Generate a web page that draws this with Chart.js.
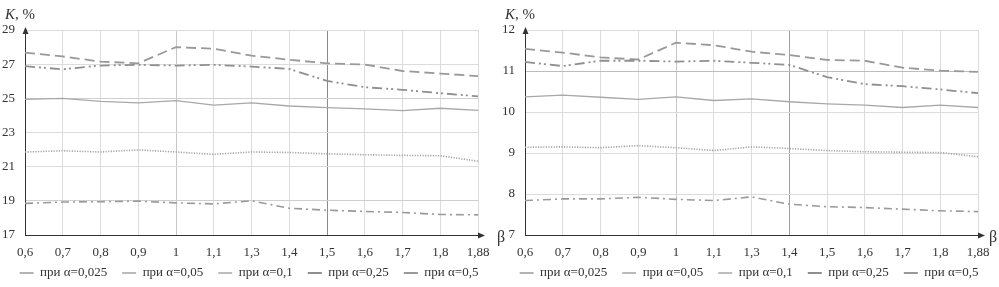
<!DOCTYPE html>
<html>
<head>
<meta charset="utf-8">
<script src="https://cdn.jsdelivr.net/npm/chart.js@4"></script>
<style>
  html, body { margin: 0; padding: 0; background: #fff; width: 999px; height: 287px; overflow: hidden; }
  #w1 { position: absolute; left: 0; top: 0; width: 510px; height: 287px; }
  #w2 { position: absolute; left: 500px; top: 0; width: 499px; height: 287px; z-index: 2; }
</style>
</head>
<body>
<div id="w1"><canvas id="c1" width="510" height="287"></canvas></div>
<div id="w2"><canvas id="c2" width="499" height="287"></canvas></div>
<script>
// ---- data ----
const categories = ['0,6','0,7','0,8','0,9','1','1,1','1,3','1,4','1,5','1,6','1,7','1,8','1,88'];
const seriesLabels = ['при α=0,025','при α=0,05','при α=0,1','при α=0,25','при α=0,5'];

// left chart (K, %, range 17..29)
const leftA025 = [18.85,18.93,18.95,18.98,18.88,18.82,19.0,18.57,18.45,18.38,18.32,18.2,18.18];
const leftA05  = [21.86,21.93,21.86,21.98,21.86,21.72,21.86,21.83,21.75,21.7,21.66,21.64,21.32];
const leftA1   = [24.94,25.0,24.82,24.74,24.86,24.6,24.73,24.55,24.46,24.38,24.28,24.42,24.3];
const leftA25  = [26.88,26.7,26.92,26.96,26.92,26.96,26.86,26.72,26.02,25.65,25.5,25.3,25.12];
const leftA5   = [27.68,27.45,27.15,27.05,28.0,27.9,27.5,27.26,27.05,26.98,26.6,26.45,26.3];
const leftTicks = [17,19,21,23,25,27,29];

// right chart (K, %, range 7..12)
const rightA025 = [7.84,7.88,7.88,7.92,7.87,7.84,7.93,7.75,7.69,7.67,7.63,7.59,7.57];
const rightA05  = [9.14,9.15,9.13,9.18,9.13,9.06,9.15,9.11,9.06,9.03,9.02,9.01,8.91];
const rightA1   = [10.37,10.41,10.36,10.31,10.37,10.28,10.32,10.25,10.2,10.17,10.11,10.17,10.11];
const rightA25  = [11.22,11.12,11.25,11.25,11.23,11.25,11.2,11.15,10.85,10.68,10.63,10.55,10.46];
const rightA5   = [11.54,11.45,11.33,11.28,11.69,11.63,11.47,11.39,11.27,11.25,11.08,11.01,10.98];
const rightTicks = [7,8,9,10,11,12];

// ---- styles ----
const FONT = "'Liberation Serif', 'Times New Roman', serif";
const styles = [
  { color: '#9a9a9a', dash: [8,4,2,4], width: 1.6 },
  { color: '#a3a3a3', dash: [1.2,1.4], width: 1.6 },
  { color: '#a8a8a8', dash: [], width: 1.3 },
  { color: '#8f8f8f', dash: [10,4,2,3,2,4], width: 1.8 },
  { color: '#999999', dash: [10,5], width: 1.8 }
];

function makeDatasets(arrs) {
  return arrs.map((d, i) => ({
    label: seriesLabels[i],
    data: d,
    borderColor: styles[i].color,
    backgroundColor: styles[i].color,
    borderDash: styles[i].dash,
    borderWidth: styles[i].width,
    pointRadius: 0,
    pointHoverRadius: 0,
    pointStyle: 'line',
    tension: 0,
    fill: false
  }));
}

const decor = {
  id: 'decor',
  afterDraw(chart) {
    const { ctx, chartArea: a } = chart;
    const o = chart.options.plugins.decor;
    ctx.save();
    ctx.strokeStyle = '#333';
    ctx.fillStyle = '#333';
    ctx.lineWidth = 1;
    // x axis extension + arrow
    ctx.beginPath();
    ctx.moveTo(a.right, a.bottom + 0.5);
    ctx.lineTo(a.right + 4, a.bottom + 0.5);
    ctx.stroke();
    ctx.beginPath();
    ctx.moveTo(a.right + 7, a.bottom + 0.5);
    ctx.lineTo(a.right, a.bottom - 2.5);
    ctx.lineTo(a.right, a.bottom + 3.5);
    ctx.closePath();
    ctx.fill();
    // y axis arrow
    ctx.beginPath();
    ctx.moveTo(a.left + 0.5, a.top - 3);
    ctx.lineTo(a.left - 2.5, a.top + 4);
    ctx.lineTo(a.left + 3.5, a.top + 4);
    ctx.closePath();
    ctx.fill();
    // titles
    ctx.fillStyle = '#333';
    ctx.textBaseline = 'middle';
    ctx.textAlign = 'left';
    ctx.font = "italic 15px " + FONT;
    ctx.fillText('K', 5, 15);
    const kw = ctx.measureText('K').width;
    ctx.font = "15px " + FONT;
    ctx.fillText(', %', 5 + kw, 15);
    ctx.textAlign = 'center';
    ctx.font = "16px " + FONT;
    ctx.fillText('β', o.betaX, 238);
    ctx.restore();
  }
};

function makeChart(id, arrs, ticks, padRight, axisPadRight, xGridColor, yGridColor, betaX) {
  const tmin = ticks[0], tmax = ticks[ticks.length - 1];
  return new Chart(document.getElementById(id), {
    type: 'line',
    data: { labels: categories, datasets: makeDatasets(arrs) },
    options: {
      responsive: false,
      animation: false,
      events: [],
      layout: { padding: { top: 30, left: 0, right: padRight, bottom: -2.5 } },
      scales: {
        x: {
          type: 'category',
          offset: false,
          grid: { color: xGridColor, lineWidth: 1, drawTicks: false },
          border: { display: true, color: '#333', width: 1 },
          ticks: { color: '#333', font: { family: FONT, size: 13 }, padding: 10, maxRotation: 0, autoSkip: false },
          afterFit(s) {
            s.height = 16.5;
            s.paddingRight = axisPadRight;
            s._computeLabelArea = () => undefined; // do not clip tick labels to the shortened box
          }
        },
        y: {
          min: tmin, max: tmax,
          afterBuildTicks(s) { s.ticks = ticks.map(v => ({ value: v })); },
          grid: { color: yGridColor, lineWidth: 1, drawTicks: false },
          border: { display: true, color: '#333', width: 1 },
          ticks: { color: '#333', font: { family: FONT, size: 13 }, padding: 10 },
          afterFit(s) { s.width = 25; }
        }
      },
      plugins: {
        decor: { betaX: betaX },
        tooltip: { enabled: false },
        legend: {
          position: 'bottom',
          align: 'center',
          labels: {
            usePointStyle: true,
            pointStyle: 'line',
            pointStyleWidth: 14,
            boxHeight: 13,
            padding: 15,
            color: '#333',
            font: { family: FONT, size: 13 }
          }
        }
      }
    },
    plugins: [decor]
  });
}

makeChart('c1', [leftA025, leftA05, leftA1, leftA25, leftA5], leftTicks, 12, 32,
  c => c.index === 8 ? '#8a8a8a' : (c.index === 4 ? '#c6c6c6' : '#dcdcdc'),
  c => (c.tick && (c.tick.value === 19 || c.tick.value === 25)) ? '#cfcfcf' : '#dcdcdc',
  501);
makeChart('c2', [rightA025, rightA05, rightA1, rightA25, rightA5], rightTicks, 1, 21,
  c => c.index === 7 ? '#a0a0a0' : (c.index === 4 ? '#c6c6c6' : '#dcdcdc'),
  c => (c.tick && c.tick.value === 11) ? '#bcbcbc' : '#dcdcdc',
  493);
</script>
</body>
</html>
